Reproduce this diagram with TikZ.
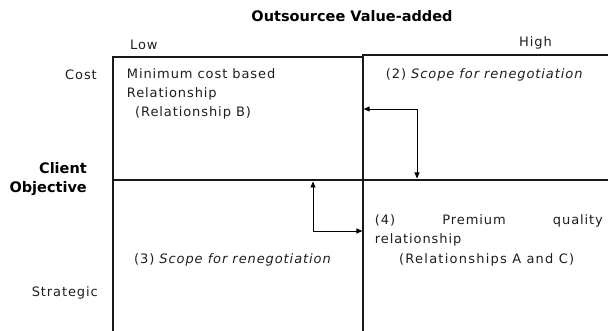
\documentclass[tikz,border=0pt]{standalone}
\usepackage{fontspec}
\setmainfont{DejaVu Sans}
\newfontfamily\bodyfont[LetterSpace=7]{DejaVu Sans}
\newfontfamily\widefont[LetterSpace=9.5]{DejaVu Sans}
\newfontfamily\headfont{DejaVu Sans}
\usetikzlibrary{arrows.meta}
\definecolor{ink}{HTML}{1E1E1E}
\begin{document}
\begin{tikzpicture}[x=1pt,y=-1pt,
  grid/.style={line width=1.2pt, black!90},
  link/.style={line width=0.9pt, black,
    {Triangle[length=6pt,width=5pt]}-{Triangle[length=6pt,width=5pt]}},
  lbl/.style={anchor=base west, inner sep=0pt, text=ink,
    font=\bodyfont\fontsize{13}{16}\selectfont},
  wlbl/.style={lbl, font=\widefont\fontsize{13}{16}\selectfont},
  rlbl/.style={lbl, anchor=base east},
  head/.style={anchor=base, inner sep=0pt, text=black,
    font=\headfont\bfseries\fontsize{14.5}{17}\selectfont},
  rhead/.style={head, anchor=base east}]
\useasboundingbox (0,0) rectangle (608,331);
% grid of the matrix
\draw[grid] (113,331) -- (113,57) -- (363,57);
\draw[grid] (363,331) -- (363,55) -- (608,55);
\draw[grid] (113,180) -- (608,180);
% headings
\node[head] (title) at (352,22) {Outsourcee Value-added};
\node[lbl] (low) at (130,50) {Low};
\node[lbl] (high) at (519,47) {High};
\node[rlbl] (cost) at (97,80) {Cost};
\node[rhead] (client) at (87,174) {Client};
\node[rhead] (objective) at (87,193) {Objective};
\node[rlbl] (strategic) at (98,297) {Strategic};
% cell 1
\node[lbl] (c1a) at (126.7,79) {Minimum cost based};
\node[lbl] (c1b) at (126.7,97.5) {Relationship};
\node[lbl] (c1c) at (135,116.5) {(Relationship B)};
% cell 2
\node[lbl] (c2) at (385.7,78.7) {(2) \textit{Scope for renegotiation}};
% cell 3
\node[lbl] (c3) at (134,264) {(3) \textit{Scope for renegotiation}};
% cell 4
\node[lbl] (c4a) at (374.7,225) {\makebox[228pt][l]{(4)\hfill Premium\hfill quality}};
\node[lbl] (c4b) at (374.7,243.5) {relationship};
\node[wlbl] (c4c) at (399,263.5) {(Relationships A and C)};
% arrows
\coordinate (a1s) at (363.6,109);
\coordinate (a1e) at (417,178.5);
\draw[link] (a1s) -| (a1e);
\coordinate (a2s) at (313,181.5);
\coordinate (a2e) at (362.4,231);
\draw[link] (a2s) |- (a2e);
\end{tikzpicture}
\end{document}
